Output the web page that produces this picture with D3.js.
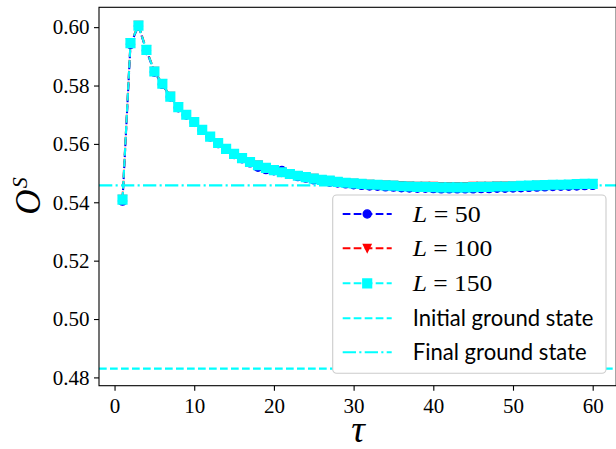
<html>
<head>
<script src="https://cdn.jsdelivr.net/npm/d3@7"></script>
<style>
  body { margin: 0; background: #fff; }
  .tick text { font-family: "Liberation Serif", serif; font-size: 21px; fill: #000; }
</style>
</head>
<body>
<div id="my_dataviz"></div>
<script>

// data
var tau = [1, 2, 3, 4, 5, 6, 7, 8, 9, 10, 11, 12, 13, 14, 15, 16, 17, 18, 19, 20,
           21, 22, 23, 24, 25, 26, 27, 28, 29, 30, 31, 32, 33, 34, 35, 36, 37, 38, 39, 40,
           41, 42, 43, 44, 45, 46, 47, 48, 49, 50, 51, 52, 53, 54, 55, 56, 57, 58, 59, 60];

var L50 = [0.5404, 0.5941, 0.6004, 0.5920, 0.5846, 0.5804, 0.5761, 0.5724, 0.5699, 0.5674,
           0.5647, 0.5624, 0.5601, 0.5582, 0.5564, 0.5549, 0.5535, 0.5520, 0.5512, 0.5508,
           0.5509, 0.5496, 0.5488, 0.5483, 0.5477, 0.5473, 0.5469, 0.5466, 0.5463, 0.5460,
           0.5458, 0.5456, 0.5455, 0.5453, 0.5452, 0.5450, 0.5449, 0.5448, 0.5448, 0.5447,
           0.5446, 0.5446, 0.5446, 0.5446, 0.5446, 0.5447, 0.5447, 0.5448, 0.5448, 0.5449,
           0.5450, 0.5451, 0.5452, 0.5453, 0.5454, 0.5455, 0.5455, 0.5456, 0.5457, 0.5458];

var L100 = [0.5410, 0.5946, 0.6006, 0.5923, 0.5849, 0.5806, 0.5763, 0.5726, 0.5701, 0.5675,
            0.5649, 0.5625, 0.5603, 0.5584, 0.5566, 0.5552, 0.5538, 0.5528, 0.5518, 0.5511,
            0.5503, 0.5497, 0.5492, 0.5486, 0.5482, 0.5477, 0.5474, 0.5471, 0.5468, 0.5465,
            0.5463, 0.5462, 0.5460, 0.5459, 0.5458, 0.5457, 0.5456, 0.5455, 0.5455, 0.5455,
            0.5454, 0.5454, 0.5454, 0.5454, 0.5455, 0.5455, 0.5455, 0.5456, 0.5456, 0.5456,
            0.5457, 0.5457, 0.5458, 0.5459, 0.5460, 0.5461, 0.5461, 0.5462, 0.5463, 0.5464];

var L150 = [0.5409, 0.5945, 0.6005, 0.5922, 0.5848, 0.5806, 0.5762, 0.5726, 0.5700, 0.5675,
            0.5648, 0.5625, 0.5603, 0.5583, 0.5566, 0.5551, 0.5538, 0.5527, 0.5518, 0.5510,
            0.5503, 0.5497, 0.5491, 0.5486, 0.5481, 0.5477, 0.5474, 0.5470, 0.5467, 0.5465,
            0.5463, 0.5461, 0.5460, 0.5458, 0.5457, 0.5455, 0.5454, 0.5453, 0.5453, 0.5452,
            0.5451, 0.5451, 0.5451, 0.5451, 0.5452, 0.5453, 0.5453, 0.5454, 0.5454, 0.5455,
            0.5456, 0.5457, 0.5458, 0.5459, 0.5460, 0.5460, 0.5461, 0.5462, 0.5463, 0.5463];

var initialGround = 0.4830;
var finalGround = 0.5458;

var xTicks = [0, 10, 20, 30, 40, 50, 60];
var yTicks = [0.48, 0.50, 0.52, 0.54, 0.56, 0.58, 0.60];

var seriesNames = ["L = 50", "L = 100", "L = 150"];
var lineNames = ["Initial ground state", "Final ground state"];

// layout (plot box in pixels)
var W = 616, H = 449;
var pLeft = 99, pRight = 616.2, pTop = 7.3, pBottom = 385.7;

var svg = d3.select("#my_dataviz")
  .append("svg")
    .attr("width", W)
    .attr("height", H);

var xScale = d3.scaleLinear().domain([-1.95, 62.95]).range([pLeft, pRight]);
var yScale = d3.scaleLinear().domain([0.47716, 0.6068]).range([pBottom, pTop]);

// matplotlib style triangle_down
var triDown = {
  draw: function(ctx, size) {
    var r = Math.sqrt(size) / 2;
    ctx.moveTo(0, r);
    ctx.lineTo(-r, -r);
    ctx.lineTo(r, -r);
    ctx.closePath();
  }
};

var series = [
  { vals: L50,  color: "#0000ff", symbol: d3.symbolCircle, size: 52, sw: 1.3 },
  { vals: L100, color: "#ff0000", symbol: triDown, size: 60, sw: 1.3 },
  { vals: L150, color: "#00ffff", symbol: d3.symbolSquare, size: 70, sw: 1.8 }
];

svg.append("clipPath").attr("id", "plotclip")
  .append("rect")
    .attr("x", pLeft).attr("y", pTop)
    .attr("width", pRight - pLeft).attr("height", pBottom - pTop);

var plot = svg.append("g").attr("clip-path", "url(#plotclip)");

var line = d3.line()
  .x(function(d, i) { return xScale(tau[i]); })
  .y(function(d) { return yScale(d); });

series.forEach(function(s, k) {
  plot.append("path")
    .datum(s.vals)
    .attr("d", line)
    .attr("fill", "none")
    .attr("stroke", s.color)
    .attr("stroke-width", 2.1)
    .attr("stroke-dasharray", "7.7,3.3");

  plot.selectAll(".mark" + k)
    .data(s.vals)
    .enter()
    .append("path")
      .attr("class", "mark" + k)
      .attr("transform", function(d, i) { return "translate(" + xScale(tau[i]) + "," + yScale(d) + ")"; })
      .attr("d", d3.symbol().type(s.symbol).size(s.size))
      .attr("fill", s.color)
      .attr("stroke", s.color)
      .attr("stroke-width", s.sw);
});

// horizontal reference lines
plot.append("line")
  .attr("x1", pLeft).attr("x2", pRight)
  .attr("y1", yScale(initialGround)).attr("y2", yScale(initialGround))
  .attr("stroke", "#00ffff").attr("stroke-width", 2.1)
  .attr("stroke-dasharray", "7.7,3.3");

plot.append("line")
  .attr("x1", pLeft).attr("x2", pRight)
  .attr("y1", yScale(finalGround)).attr("y2", yScale(finalGround))
  .attr("stroke", "#00ffff").attr("stroke-width", 2.1)
  .attr("stroke-dasharray", "13.3,3.3,2.1,3.3");

// axes
var xAxis = svg.append("g")
  .attr("transform", "translate(0," + pBottom + ")")
  .call(d3.axisBottom(xScale).tickValues(xTicks).tickSize(5).tickPadding(7));

var yAxis = svg.append("g")
  .attr("transform", "translate(" + pLeft + ",0)")
  .call(d3.axisLeft(yScale).tickValues(yTicks).tickFormat(d3.format(".2f")).tickSize(5).tickPadding(4.5));

xAxis.select(".domain").remove();
yAxis.select(".domain").remove();
svg.selectAll(".tick line").attr("stroke", "#000").attr("stroke-width", 1.1);

// spines
svg.append("rect")
  .attr("x", pLeft).attr("y", pTop)
  .attr("width", pRight - pLeft).attr("height", pBottom - pTop)
  .attr("fill", "none")
  .attr("stroke", "#000")
  .attr("stroke-width", 1.1);

// axis labels
svg.append("text")
  .attr("x", 358).attr("y", 442)
  .attr("text-anchor", "middle")
  .style("font-family", "Liberation Serif, serif")
  .style("font-style", "italic")
  .style("font-size", "38px")
  .text("τ");

var ylab = svg.append("text")
  .attr("transform", "translate(40,196) rotate(-90)")
  .attr("text-anchor", "middle")
  .style("font-family", "Liberation Serif, serif")
  .style("font-style", "italic");
ylab.append("tspan").style("font-size", "35px").text("O");
ylab.append("tspan").attr("dy", -13).attr("dx", 1).style("font-size", "22px").text("S");

// legend
var leg = svg.append("g");
leg.append("rect")
  .attr("x", 332.7).attr("y", 195)
  .attr("width", 273.3).attr("height", 178.3)
  .attr("rx", 4)
  .attr("fill", "#fff")
  .attr("stroke", "#cccccc")
  .attr("stroke-width", 1.1);

var rowY = [214, 248.3, 283.3, 318.3, 352.3];
var hx0 = 342.7, hx1 = 391.7, tx = 412.7;
var labWidths = [68, 79.7, 79.7];

series.forEach(function(s, i) {
  leg.append("line")
    .attr("x1", hx0).attr("x2", hx1)
    .attr("y1", rowY[i]).attr("y2", rowY[i])
    .attr("stroke", s.color).attr("stroke-width", 2.1)
    .attr("stroke-dasharray", "7.7,3.3");
  leg.append("path")
    .attr("transform", "translate(" + (hx0 + hx1) / 2 + "," + rowY[i] + ")")
    .attr("d", d3.symbol().type(s.symbol).size(s.size))
    .attr("fill", s.color).attr("stroke", s.color).attr("stroke-width", s.sw);
  var parts = seriesNames[i].split(" = ");
  var t = leg.append("text")
    .attr("x", tx).attr("y", rowY[i] + 8)
    .attr("textLength", labWidths[i])
    .attr("lengthAdjust", "spacingAndGlyphs")
    .style("font-family", "Liberation Serif, serif")
    .style("font-size", "24px");
  t.append("tspan").style("font-style", "italic").text(parts[0]);
  t.append("tspan").text(" = " + parts[1]);
});

var dashes = ["7.7,3.3", "13.3,3.3,2.1,3.3"];
var lineWidths = [180.7, 174];
lineNames.forEach(function(name, j) {
  var ry = rowY[3 + j];
  leg.append("line")
    .attr("x1", hx0).attr("x2", hx1)
    .attr("y1", ry).attr("y2", ry)
    .attr("stroke", "#00ffff").attr("stroke-width", 2.1)
    .attr("stroke-dasharray", dashes[j]);
  leg.append("text")
    .attr("x", tx).attr("y", ry + 8)
    .attr("textLength", lineWidths[j])
    .attr("lengthAdjust", "spacingAndGlyphs")
    .style("font-family", "Lato, sans-serif")
    .style("font-size", "23px")
    .text(name);
});

</script>
</body>
</html>
